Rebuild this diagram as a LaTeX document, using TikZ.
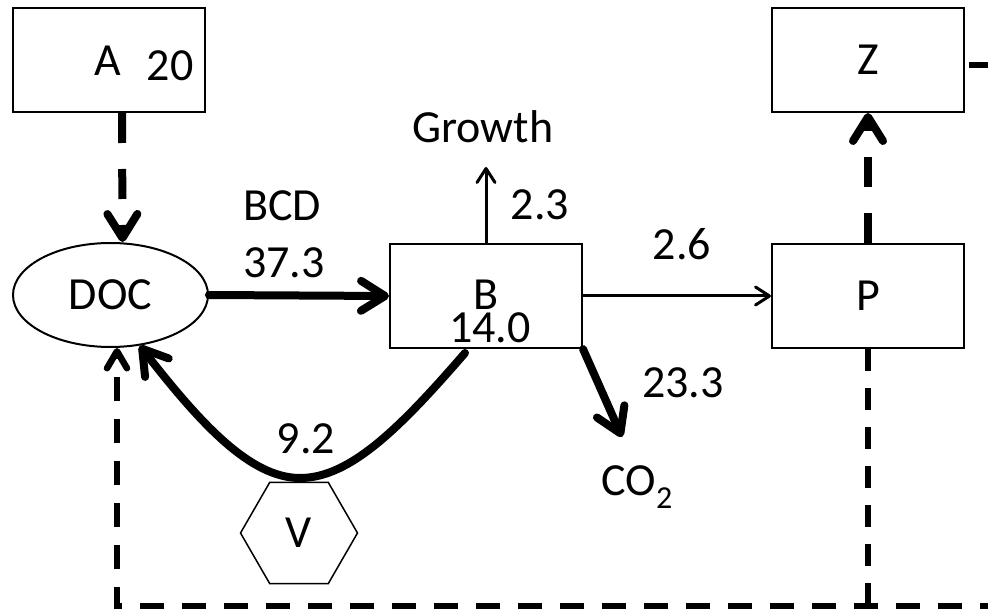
\documentclass[tikz,border=0pt]{standalone}
\usepackage{fontspec}
\setmainfont{Carlito}
\usetikzlibrary{arrows.meta,shapes.geometric}
\begin{document}
\begin{tikzpicture}[x=1pt,y=-1pt,
  every node/.style={font=\fontsize{46}{52}\selectfont, inner sep=0pt},
  boxnode/.style={draw, line width=2pt, minimum width=192pt, minimum height=104pt},
  lbl/.style={anchor=base},
  thickarr/.style={line width=8pt, line cap=round, -{Straight Barb[length=24pt,width=30pt,round]}},
  thinarr/.style={line width=3pt, -{Straight Barb[length=14pt,width=18pt,round]}},
  thickdash/.style={line width=8pt, dash pattern=on 30pt off 26pt, -{Straight Barb[length=24pt,width=30pt,round]}},
  loopdash/.style={line width=6.5pt, dash pattern=on 24pt off 18pt, -{Straight Barb[length=17pt,width=20pt,round]}},
  vdash/.style={line width=5.5pt, dash pattern=on 22pt off 17pt}
]
\useasboundingbox (0,0) rectangle (988,612);
\clip (0,0) rectangle (988,612);

% nodes
\node[boxnode] (A) at (109,60) {};
\node[draw, ellipse, line width=2pt, minimum width=195pt, minimum height=104pt] (DOC) at (110.5,295) {DOC};
\node[boxnode] (B) at (486,296) {};
\node[boxnode] (P) at (868,296) {P};
\node[boxnode] (Z) at (868,60) {Z};
\node[draw, regular polygon, regular polygon sides=6, line width=1.5pt, minimum size=117pt] (V) at (299,533) {V};

\coordinate (gtip) at (486,167);
\coordinate (ctip) at (622,437);
\coordinate (bl) at (117,606);
\coordinate (br) at (1010,606);
\coordinate (zr) at (1010,65);

% labels
\node[lbl] at (108,76) {A};
\node[lbl] at (170,81) {20};
\node[lbl] (growth) at (483,143) {Growth};
\node[lbl] at (282,221) {BCD};
\node[lbl] at (284,278) {37.3};
\node[lbl] at (540,220) {2.3};
\node[lbl] at (486,310) {B};
\node[lbl] at (490,342) {14.0};
\node[lbl] at (682,260) {2.6};
\node[lbl] at (683,397) {23.3};
\node[lbl] at (306,453) {9.2};
\node[lbl] at (637,495) {CO\raisebox{-13pt}{\fontsize{32}{36}\selectfont 2}};

% connectors
\draw[thickdash] ([xshift=13pt]A.south) -- ([xshift=12pt]DOC.north);
\draw[thickdash] (P.north) -- (Z.south);
\draw[thickarr] (DOC.east) -- (B.west);
\draw[thinarr] (B.north) -- (gtip);
\draw[thinarr] (B.east) -- (P.west);
\draw[thickarr] (B.south east) -- (ctip);
\draw[thickarr] ([xshift=-21pt,yshift=-4pt]B.south) .. controls (400,428) and (350,478) .. (300,478) .. controls (250,478) and (200,423) .. (DOC.300);
\draw[vdash] (P.south) -- (P.south |- bl);
\draw[loopdash] ([xshift=4pt,yshift=-5pt]Z.east) -- (zr) -- (br) -- (bl) -- (DOC.south -| bl);
\end{tikzpicture}
\end{document}
